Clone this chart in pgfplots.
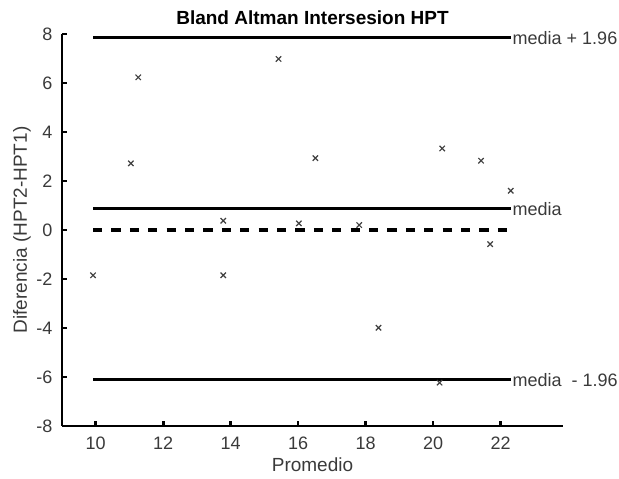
\documentclass[border=0pt]{standalone}
\usepackage{fontspec}
\setmainfont{Liberation Sans}
\usepackage{pgfplots}
\pgfplotsset{compat=1.18}
\definecolor{txtgray}{HTML}{3A3A3A}
\begin{document}
\begin{tikzpicture}
\begin{axis}[
    name=ax,
    scale only axis,
    width=250.5pt, height=196pt,
    xmin=9, xmax=23.85, ymin=-8, ymax=8,
    axis x line=bottom, axis y line=left,
    axis line style={-, line width=1.4pt},
    xtick={10,12,...,22}, ytick={-8,-6,...,8},
    tick align=inside,
    major tick length=2.4pt,
    every tick/.style={line width=1.3pt, black},
    /pgf/number format/assume math mode=true,
    tick label style={font=\fontsize{9}{10}\selectfont, text=txtgray},
    yticklabel style={xshift=-1.3pt},
    xticklabel style={yshift=-1.8pt},
    xlabel={Promedio},
    ylabel={Diferencia (HPT2-HPT1)},
    label style={font=\fontsize{9.5}{11}\selectfont, text=txtgray},
    xlabel style={at={(axis description cs:0.5,-0.1)}, anchor=center},
    ylabel style={at={(axis description cs:-0.08,0.5)}, anchor=center, rotate=0},
    every axis title shift=0pt,
    title={Bland Altman Intersesion HPT},
    title style={font=\fontsize{9.5}{11}\selectfont\bfseries,
                 at={(axis description cs:0.5,1.041)}, anchor=center},
    clip=false,
]
% points
\addplot[only marks, mark=x, mark size=1.9pt, color=black!75, line width=0.6pt] coordinates {
    (9.92,-1.85) (11.04,2.72) (11.26,6.23) (13.78,0.38) (13.78,-1.85)
    (15.42,6.98) (16.02,0.27) (16.51,2.93) (17.81,0.20) (18.38,-3.99)
    (20.27,3.33) (20.19,-6.23) (21.42,2.83) (21.69,-0.58) (22.30,1.60)
};
% limits of agreement
\addplot[black, line width=1.55pt] coordinates {(9.92,7.85) (22.30,7.85)};
\addplot[black, line width=1.55pt] coordinates {(9.92,0.865) (22.30,0.865)};
\addplot[black, line width=1.55pt, dash pattern=on 4.6pt off 4.6pt] coordinates {(9.92,0) (22.30,0)};
\addplot[black, line width=1.55pt] coordinates {(9.92,-6.12) (22.30,-6.12)};
\node[anchor=west, inner sep=0.8pt, font=\fontsize{9}{11}\selectfont, text=txtgray] at (axis cs:22.30,7.85) {media + 1.96};
\node[anchor=west, inner sep=0.8pt, font=\fontsize{9}{11}\selectfont, text=txtgray] at (axis cs:22.30,0.865) {media};
\node[anchor=west, inner sep=0.8pt, font=\fontsize{9}{11}\selectfont, text=txtgray] at (axis cs:22.30,-6.12) {media~~- 1.96};
\end{axis}
\pgfresetboundingbox
\path[use as bounding box] ([xshift=-31pt,yshift=-26.5pt]ax.south west) rectangle ([xshift=28pt,yshift=17pt]ax.north east);
\end{tikzpicture}
\end{document}
